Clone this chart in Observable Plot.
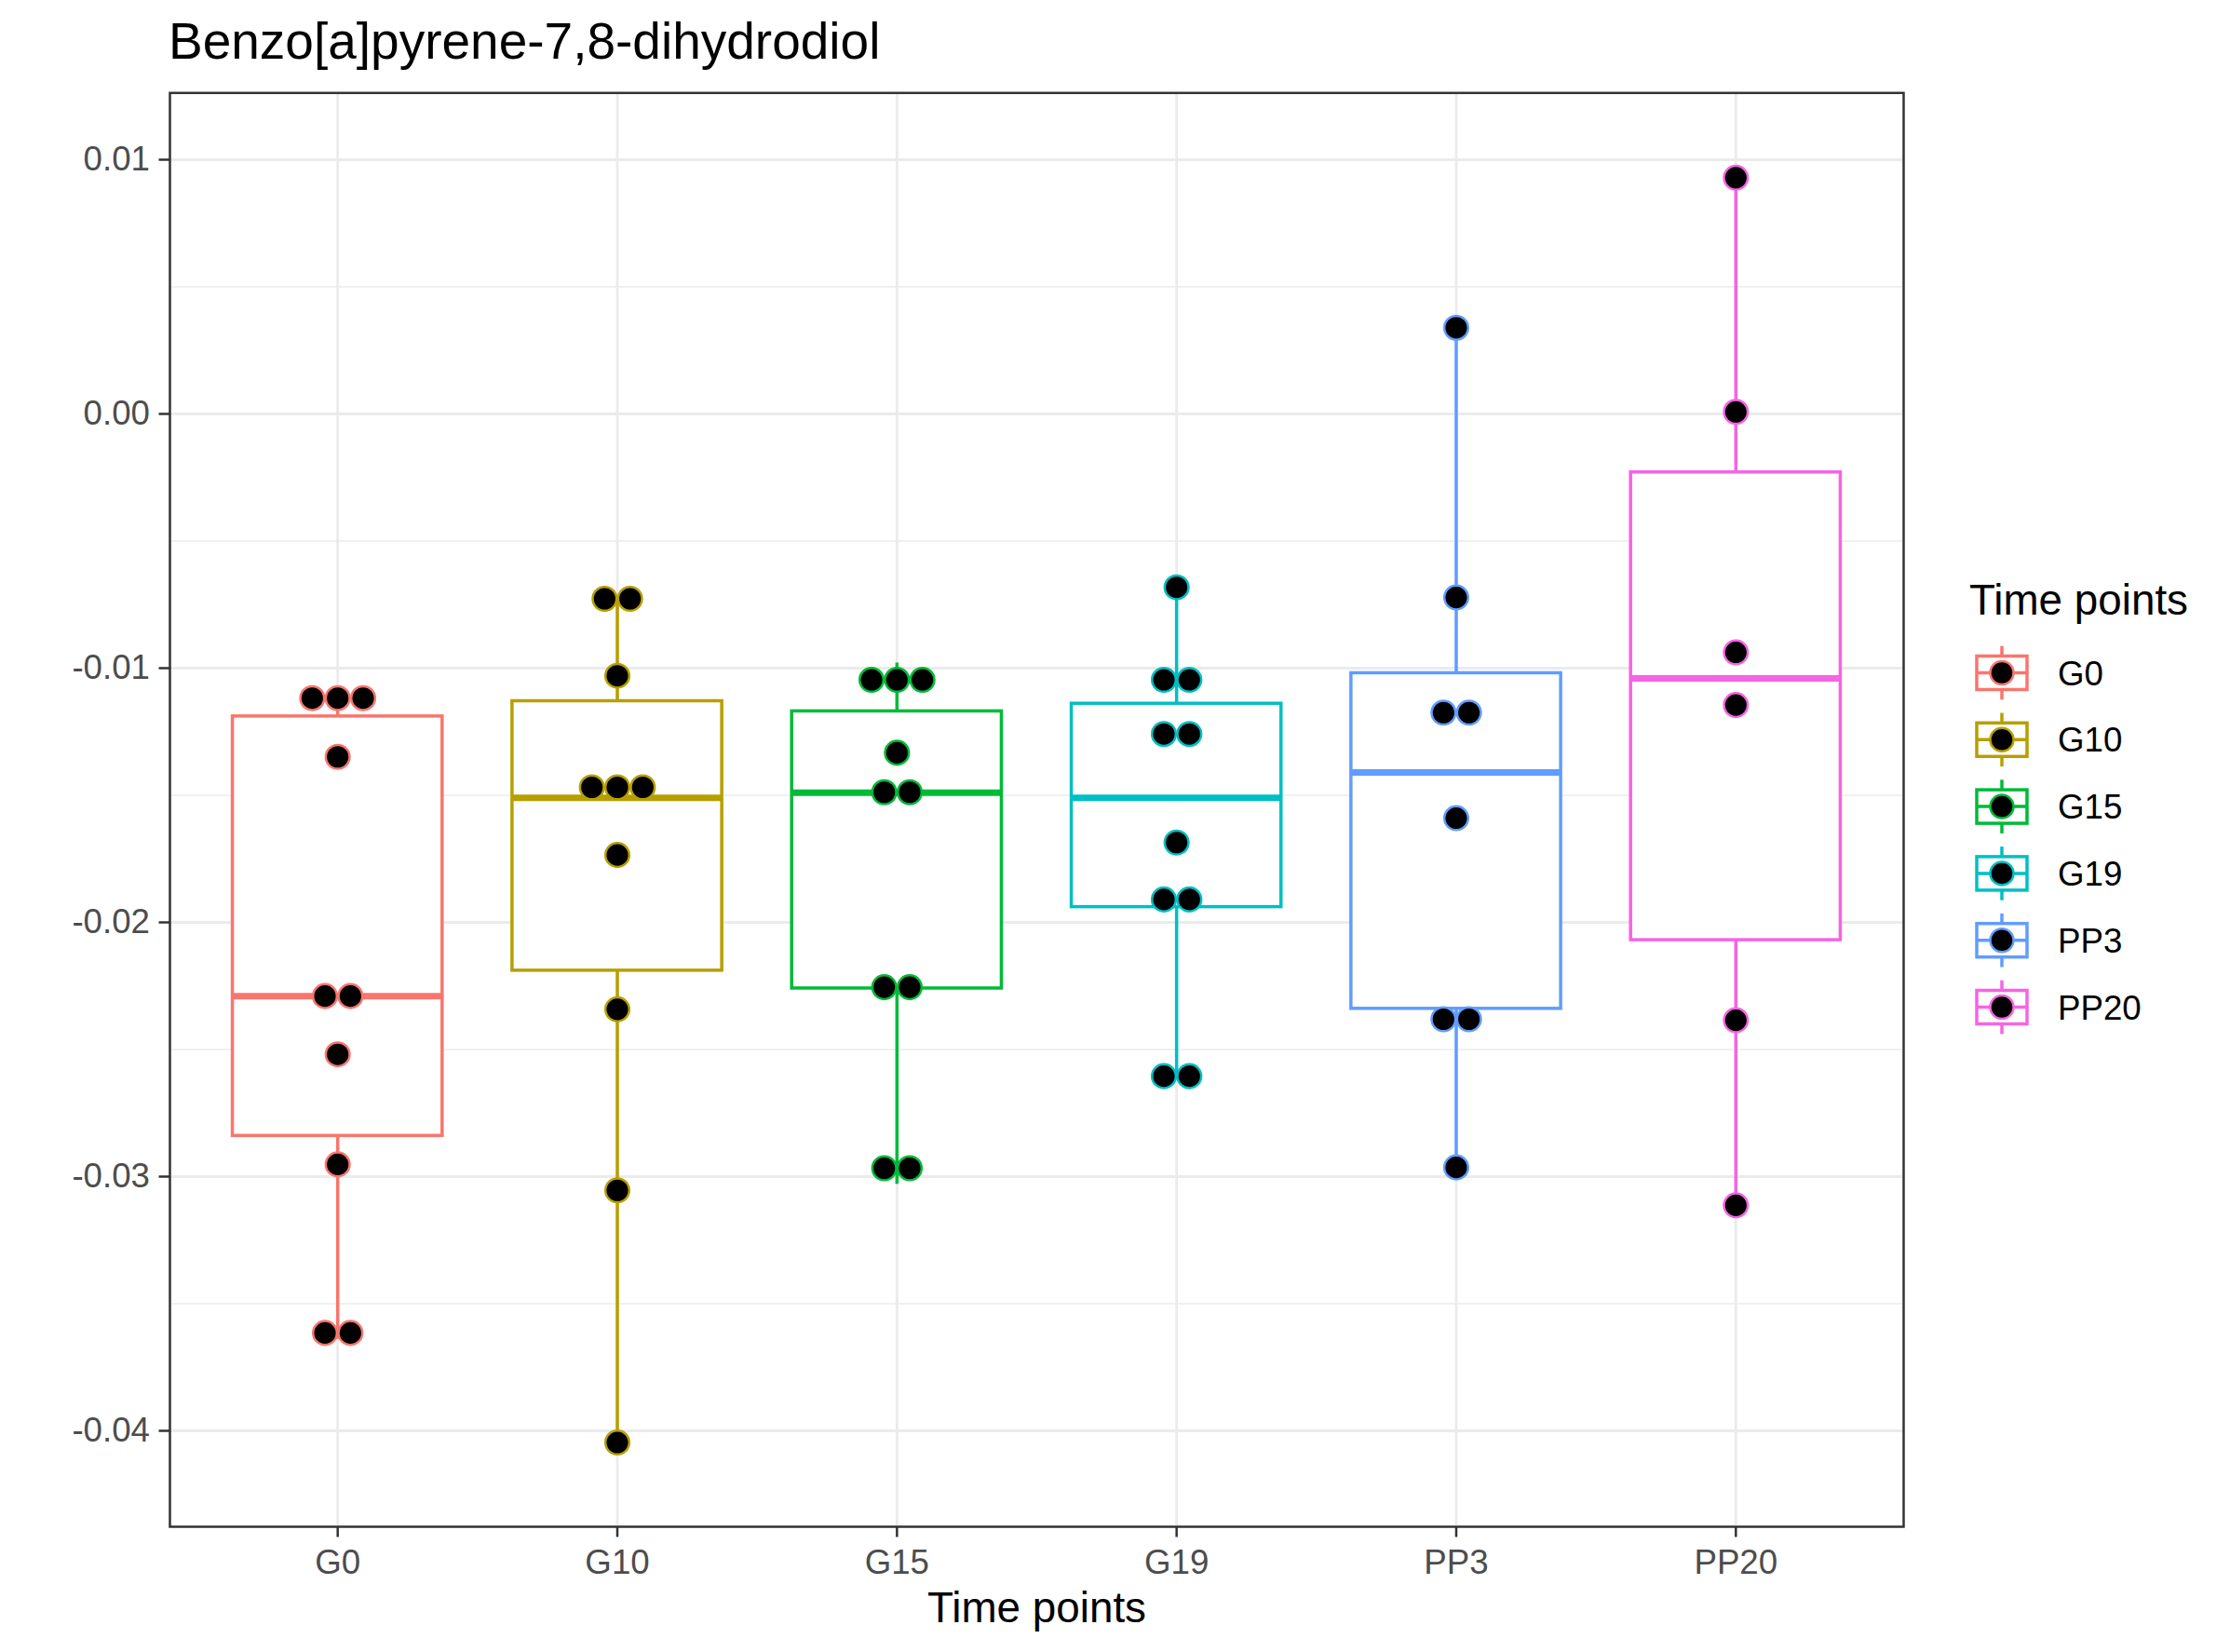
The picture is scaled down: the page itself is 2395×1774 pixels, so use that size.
<!DOCTYPE html>
<html>
<head>
<meta charset="utf-8">
<script src="https://cdn.jsdelivr.net/npm/d3@7"></script>
<script src="https://cdn.jsdelivr.net/npm/@observablehq/plot@0.6"></script>
<style>
  html, body { margin: 0; padding: 0; background: #fff; }
  #page { position: relative; width: 2395px; height: 1774px; background: #fff; overflow: hidden;
          font-family: "Liberation Sans", Arial, Helvetica, sans-serif; }
  #title { position: absolute; left: 181px; top: 16.5px; font-size: 55px; line-height: 55px; color: #000; white-space: nowrap; }
  #chart { position: absolute; left: 0; top: 80px; }
  #legend { position: absolute; left: 2080px; top: 560px; }
</style>
</head>
<body>
<div id="page">
  <div id="title">Benzo[a]pyrene-7,8-dihydrodiol</div>
  <div id="chart"></div>
  <div id="legend"></div>
</div>
<script>
// ---- data ----
const categories = ["G0", "G10", "G15", "G19", "PP3", "PP20"];
const colors = ["#F8766D", "#B79F00", "#00BA38", "#00BFC4", "#619CFF", "#F564E3"];

// box statistics
const whiskerLow  = [-0.0364, -0.0405, -0.0303, -0.0262, -0.0297, -0.0311];
const q1          = [-0.0284, -0.0219, -0.0226, -0.0194, -0.0234, -0.0207];
const medians     = [-0.0229, -0.0151, -0.0149, -0.0151, -0.0141, -0.0104];
const q3          = [-0.0119, -0.0113, -0.0117, -0.0114, -0.0102, -0.0023];
const whiskerHigh = [-0.0111, -0.0073, -0.0098, -0.0068, 0.0034, 0.0093];

// dot values (dot-plot bin centres) per time point
const valuesG0   = [-0.01118, -0.01118, -0.01118, -0.01349, -0.0229, -0.0229, -0.02519, -0.02952, -0.03615, -0.03615];
const valuesG10  = [-0.00727, -0.00727, -0.0103, -0.01469, -0.01469, -0.01469, -0.01735, -0.02342, -0.03054, -0.04046];
const valuesG15  = [-0.01046, -0.01046, -0.01046, -0.01333, -0.01488, -0.01488, -0.02255, -0.02255, -0.02967, -0.02967];
const valuesG19  = [-0.00682, -0.01046, -0.01046, -0.01259, -0.01259, -0.01686, -0.0191, -0.0191, -0.02605, -0.02605];
const valuesPP3  = [0.00339, -0.00722, -0.01175, -0.01175, -0.0159, -0.02381, -0.02381, -0.02964];
const valuesPP20 = [0.00929, 0.00008, -0.00938, -0.01145, -0.02385, -0.03113];

const yMajorTicks = [-0.04, -0.03, -0.02, -0.01, 0, 0.01];
const yMinorTicks = [-0.035, -0.025, -0.015, -0.005, 0.005];
const xTitle = "Time points";
const legendTitle = "Time points";

// ---- build tables ----
const groupValues = [valuesG0, valuesG10, valuesG15, valuesG19, valuesPP3, valuesPP20];
const xIndex = categories.map((c, i) => i + 1);
const boxHalf = 0.375;     // box width 0.75 of a category step
const stackStep = 0.091;   // horizontal stacking step of dots (in category units)

const boxes = categories.map((c, i) => ({
  cat: c, idx: i + 1, lo: whiskerLow[i], q1: q1[i], med: medians[i], q3: q3[i], hi: whiskerHigh[i]
}));

const dots = [];
groupValues.forEach((vals, gi) => {
  const counts = d3.rollup(vals, v => v.length, v => v);
  const seen = new Map();
  vals.forEach(v => {
    const n = counts.get(v);
    const k = seen.get(v) ?? 0;
    seen.set(v, k + 1);
    dots.push({cat: categories[gi], idx: gi + 1, value: v, offset: (k - (n - 1) / 2) * stackStep});
  });
});

const font = '"Liberation Sans", Arial, Helvetica, sans-serif';

const plot = Plot.plot({
  width: 2060,
  height: 1694,
  marginLeft: 182,
  marginRight: 16,
  marginTop: 19.3,
  marginBottom: 135,
  style: {fontFamily: font, background: "white", overflow: "visible"},
  x: {type: "linear", domain: [0.4, 6.6]},
  y: {domain: [-0.043773, 0.012626]},
  color: {type: "ordinal", domain: categories, range: colors},
  marks: [
    Plot.gridY(yMinorTicks, {stroke: "#EBEBEB", strokeOpacity: 1, strokeWidth: 1.4}),
    Plot.gridY(yMajorTicks, {stroke: "#EBEBEB", strokeOpacity: 1, strokeWidth: 2.8}),
    Plot.gridX(xIndex, {stroke: "#EBEBEB", strokeOpacity: 1, strokeWidth: 2.8}),
    Plot.ruleX(boxes, {x: "idx", y1: "lo", y2: "hi", stroke: "cat", strokeWidth: 3.5}),
    Plot.rect(boxes, {x1: d => d.idx - boxHalf, x2: d => d.idx + boxHalf, y1: "q1", y2: "q3",
                      fill: "white", stroke: "cat", strokeWidth: 3.5}),
    Plot.ruleY(boxes, {y: "med", x1: d => d.idx - boxHalf, x2: d => d.idx + boxHalf, stroke: "cat", strokeWidth: 7}),
    Plot.dot(dots, {x: d => d.idx + d.offset, y: "value", r: 12.8, fill: "black", stroke: "cat", strokeWidth: 2.5}),
    Plot.axisY(yMajorTicks, {tickFormat: d => d.toFixed(2), tickSize: 11.5, tickPadding: 10,
                             fontSize: 36.7, fill: "#4D4D4D", stroke: "#333333", strokeWidth: 2.5, label: null}),
    Plot.axisX(xIndex, {tickFormat: i => categories[i - 1], tickSize: 11.5, tickPadding: 13,
                        fontSize: 36.7, fill: "#4D4D4D", stroke: "#333333", strokeWidth: 2.5, label: null}),
    Plot.text([xTitle], {text: d => d, frameAnchor: "bottom", dy: 102, lineAnchor: "bottom",
                         fontSize: 45.8, fill: "black"}),
    Plot.frame({stroke: "#333333", strokeWidth: 2.5})
  ]
});
document.getElementById("chart").appendChild(plot);

// ---- legend ----
const lg = d3.select("#legend").append("svg")
  .attr("width", 315).attr("height", 600)
  .style("font-family", font);
lg.append("text").attr("x", 35).attr("y", 100).attr("font-size", 45.8).attr("fill", "black").text(legendTitle);
categories.forEach((c, i) => {
  const cy = 162.5 + i * 71.8, cx = 70, s = 72;
  const col = colors[i];
  const g = lg.append("g").attr("transform", `translate(${cx - s / 2},${cy - s / 2})`);
  g.append("line").attr("x1", s / 2).attr("x2", s / 2).attr("y1", s * 0.1).attr("y2", s * 0.25)
    .attr("stroke", col).attr("stroke-width", 3.5);
  g.append("line").attr("x1", s / 2).attr("x2", s / 2).attr("y1", s * 0.75).attr("y2", s * 0.9)
    .attr("stroke", col).attr("stroke-width", 3.5);
  g.append("rect").attr("x", s * 0.125).attr("y", s * 0.25).attr("width", s * 0.75).attr("height", s * 0.5)
    .attr("fill", "white").attr("stroke", col).attr("stroke-width", 3.5);
  g.append("line").attr("x1", s * 0.125).attr("x2", s * 0.875).attr("y1", s / 2).attr("y2", s / 2)
    .attr("stroke", col).attr("stroke-width", 3.5);
  g.append("circle").attr("cx", s / 2).attr("cy", s / 2).attr("r", 12.5)
    .attr("fill", "black").attr("stroke", col).attr("stroke-width", 2.5);
  lg.append("text").attr("x", 130).attr("y", cy + 13).attr("font-size", 36.7).attr("fill", "black").text(c);
});
</script>
</body>
</html>
